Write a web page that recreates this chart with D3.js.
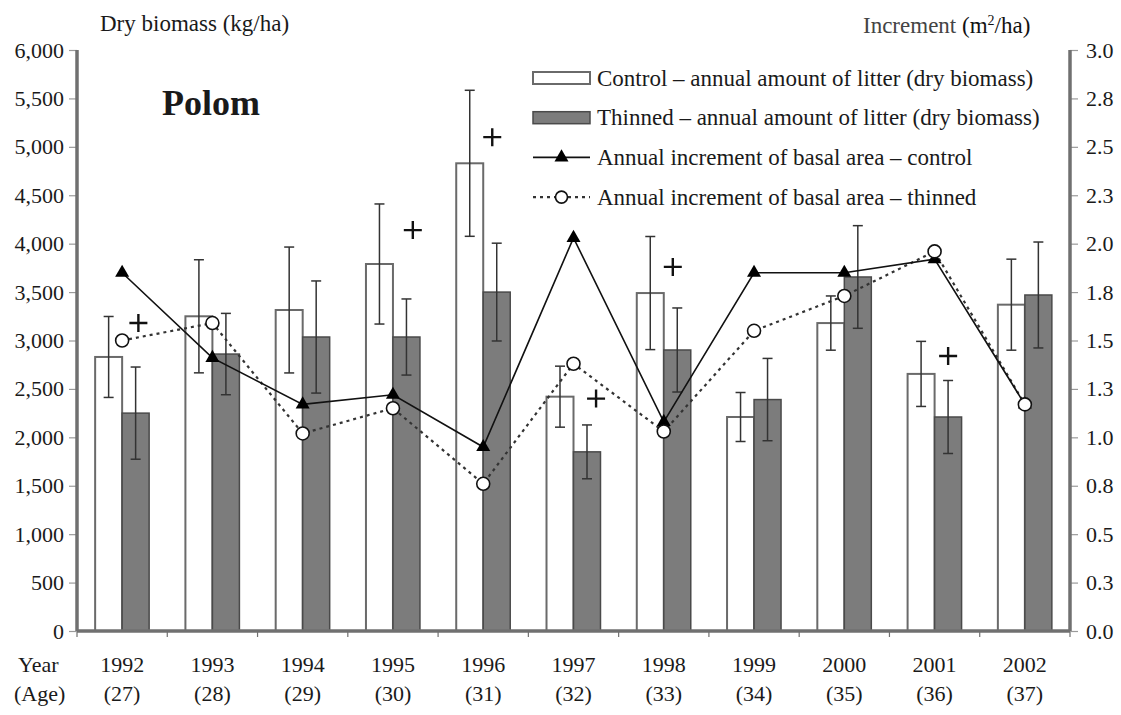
<!DOCTYPE html>
<html>
<head>
<meta charset="utf-8">
<script src="https://cdn.jsdelivr.net/npm/d3@7"></script>
<style>
  body { margin: 0; background: #fff; }
  text { font-family: "Liberation Serif", "Times New Roman", serif; fill: #1a1a1a; }
</style>
</head>
<body>
<div id="chart"></div>
<script>
// Data
const years = [1992, 1993, 1994, 1995, 1996, 1997, 1998, 1999, 2000, 2001, 2002];
const ages = [27, 28, 29, 30, 31, 32, 33, 34, 35, 36, 37];

// litter, kg/ha (mean and error)
const controlLitter = [2830, 3250, 3315, 3790, 4830, 2420, 3490, 2210, 3180, 2655, 3370];
const controlErr    = [418, 584, 650, 620, 754, 315, 584, 253, 280, 336, 470];
const thinnedLitter = [2250, 2860, 3036, 3036, 3500, 1850, 2902, 2390, 3656, 2210, 3470];
const thinnedErr    = [476, 420, 579, 393, 505, 278, 434, 425, 530, 377, 547];

// basal area increment, m2/ha
const controlIncrement = [1.85, 1.41, 1.17, 1.22, 0.95, 2.03, 1.08, 1.85, 1.85, 1.92, 1.17];
const thinnedIncrement = [1.50, 1.59, 1.02, 1.15, 0.76, 1.38, 1.03, 1.55, 1.73, 1.96, 1.17];

// significance marks (+), year position and level in kg/ha
const plusAt     = [1992.18, 1995.22, 1996.1, 1997.25, 1998.1, 2001.15];
const plusLitter = [3180, 4140, 5100, 2400, 3760, 2840];

// ticks
const litterTicks = d3.range(0, 6001, 500);
const incrementTicks = d3.range(0, 3.001, 0.25);

const legendItems = [
  "Control \u2013 annual amount of litter (dry biomass)",
  "Thinned \u2013 annual amount of litter (dry biomass)",
  "Annual increment of basal area \u2013 control",
  "Annual increment of basal area \u2013 thinned"
];

const W = 1121, H = 715;
const margin = {top: 50, right: 51, bottom: 84, left: 77};
const axisColor = "#707070";
const serif = "'Liberation Serif', 'Times New Roman', serif";

const svg = d3.select("#chart").append("svg")
    .attr("width", W)
    .attr("height", H)
    .attr("font-family", serif);

// Scales
const x = d3.scaleBand()
    .domain(years)
    .range([margin.left, W - margin.right])
    .padding(0);

const xSub = d3.scaleBand()
    .domain(["control", "thinned"])
    .range([0, x.bandwidth()])
    .paddingInner(0)
    .paddingOuter(0.672);

const xYear = d3.scaleLinear()
    .domain([years[0], years[years.length - 1]])
    .range([x(years[0]) + x.bandwidth() / 2, x(years[years.length - 1]) + x.bandwidth() / 2]);

const yL = d3.scaleLinear().domain([0, 6000]).range([H - margin.bottom, margin.top]);
const yR = d3.scaleLinear().domain([0, 3]).range([H - margin.bottom, margin.top]);

const rows = years.map((yr, i) => ({
  year: yr, age: ages[i],
  c: controlLitter[i], ce: controlErr[i],
  t: thinnedLitter[i], te: thinnedErr[i],
  ci: controlIncrement[i], ti: thinnedIncrement[i]
}));

// Bars
const g = svg.append("g");
g.selectAll(".bar-c")
  .data(rows)
  .join("rect")
    .attr("x", d => x(d.year) + xSub("control"))
    .attr("y", d => yL(d.c))
    .attr("width", xSub.bandwidth())
    .attr("height", d => yL(0) - yL(d.c))
    .attr("fill", "#fff")
    .attr("stroke", "#6a6a6a")
    .attr("stroke-width", 2);

g.selectAll(".bar-t")
  .data(rows)
  .join("rect")
    .attr("x", d => x(d.year) + xSub("thinned"))
    .attr("y", d => yL(d.t))
    .attr("width", xSub.bandwidth())
    .attr("height", d => yL(0) - yL(d.t))
    .attr("fill", "#7c7c7c")
    .attr("stroke", "#4a4a4a")
    .attr("stroke-width", 1.5);

// Error bars
function errorBars(key, val, err) {
  const cx = d => x(d.year) + xSub(key) + xSub.bandwidth() / 2;
  const eg = g.append("g").attr("stroke", "#333").attr("stroke-width", 1.5);
  eg.selectAll("line.v").data(rows).join("line")
    .attr("x1", cx).attr("x2", cx)
    .attr("y1", d => yL(d[val] - d[err])).attr("y2", d => yL(d[val] + d[err]));
  eg.selectAll("line.top").data(rows).join("line")
    .attr("x1", d => cx(d) - 5).attr("x2", d => cx(d) + 5)
    .attr("y1", d => yL(d[val] + d[err])).attr("y2", d => yL(d[val] + d[err]));
  eg.selectAll("line.bot").data(rows).join("line")
    .attr("x1", d => cx(d) - 5).attr("x2", d => cx(d) + 5)
    .attr("y1", d => yL(d[val] - d[err])).attr("y2", d => yL(d[val] - d[err]));
}
errorBars("control", "c", "ce");
errorBars("thinned", "t", "te");

// Axes
const bottomY = yL(0);
svg.append("line")
    .attr("x1", margin.left).attr("x2", W - margin.right)
    .attr("y1", bottomY).attr("y2", bottomY)
    .attr("stroke", axisColor).attr("stroke-width", 3.5);

// bottom ticks at band boundaries
const bounds = years.map(y => x(y)).concat([x(years[years.length - 1]) + x.bandwidth()]);
svg.append("g").selectAll("line").data(bounds).join("line")
    .attr("x1", d => d).attr("x2", d => d)
    .attr("y1", bottomY).attr("y2", bottomY + 6)
    .attr("stroke", axisColor).attr("stroke-width", 1.2);

const leftAxis = svg.append("g")
    .attr("transform", `translate(${margin.left},0)`)
    .call(d3.axisLeft(yL).tickValues(litterTicks).tickFormat(d3.format(",")).tickSize(8).tickPadding(5));
leftAxis.attr("font-family", serif).attr("font-size", 22);
leftAxis.select(".domain").remove();
leftAxis.selectAll(".tick line").attr("stroke", "#9a9a9a").attr("stroke-width", 1.2);
leftAxis.selectAll(".tick text").attr("fill", "#222");
svg.append("line")
    .attr("x1", margin.left).attr("x2", margin.left)
    .attr("y1", yL(6000)).attr("y2", bottomY)
    .attr("stroke", axisColor).attr("stroke-width", 3.5);

const rightX = W - margin.right;
const rightAxis = svg.append("g")
    .attr("transform", `translate(${rightX},0)`)
    .call(d3.axisRight(yR).tickValues(incrementTicks).tickFormat(d3.format(".1f")).tickSize(8).tickPadding(8));
rightAxis.attr("font-family", serif).attr("font-size", 22);
rightAxis.select(".domain").remove();
rightAxis.selectAll(".tick line").attr("stroke", "#9a9a9a").attr("stroke-width", 1.2);
rightAxis.selectAll(".tick text").attr("fill", "#222");
svg.append("line")
    .attr("x1", rightX).attr("x2", rightX)
    .attr("y1", yR(3)).attr("y2", bottomY)
    .attr("stroke", axisColor).attr("stroke-width", 3.5);

// Lines
const cxMid = d => x(d.year) + x.bandwidth() / 2;
const lineC = d3.line().x(cxMid).y(d => yR(d.ci));
const lineT = d3.line().x(cxMid).y(d => yR(d.ti));

svg.append("path").datum(rows)
    .attr("d", lineT)
    .attr("fill", "none").attr("stroke", "#333").attr("stroke-width", 2.2)
    .attr("stroke-dasharray", "3,4");
svg.append("path").datum(rows)
    .attr("d", lineC)
    .attr("fill", "none").attr("stroke", "#111").attr("stroke-width", 1.6);

const tri = d3.symbol().type(d3.symbolTriangle).size(85);
svg.append("g").selectAll("path").data(rows).join("path")
    .attr("d", tri)
    .attr("transform", d => `translate(${cxMid(d)},${yR(d.ci)})`)
    .attr("fill", "#000");

svg.append("g").selectAll("circle").data(rows).join("circle")
    .attr("cx", cxMid).attr("cy", d => yR(d.ti)).attr("r", 6.5)
    .attr("fill", "#fff").attr("stroke", "#111").attr("stroke-width", 1.6);

// + marks
svg.append("g").selectAll("path").data(plusAt.map((p, i) => ({p, v: plusLitter[i]}))).join("path")
    .attr("d", d => {
      const px = xYear(d.p), py = yL(d.v);
      return `M${px - 9},${py}H${px + 9}M${px},${py - 9}V${py + 9}`;
    })
    .attr("stroke", "#111").attr("stroke-width", 2.4).attr("fill", "none");

// Axis titles
svg.append("text").attr("x", 100).attr("y", 31)
    .style("font-size", "23px").attr("fill", "#333")
    .text("Dry biomass (kg/ha)");

const incT = svg.append("text").attr("x", 863).attr("y", 33).style("font-size", "23px");
incT.append("tspan").attr("fill", "#444").text("Increment ");
incT.append("tspan").attr("fill", "#111").text("(m");
incT.append("tspan").attr("fill", "#111").attr("dy", -8).style("font-size", "14px").text("2");
incT.append("tspan").attr("fill", "#111").attr("dy", 8).text("/ha)");

svg.append("text").attr("x", 162).attr("y", 115)
    .style("font-size", "36px").style("font-weight", "bold").attr("fill", "#111")
    .text("Polom");

// Year and age labels
svg.append("text").attr("x", 18).attr("y", 672).style("font-size", "22px").text("Year");
svg.append("text").attr("x", 14).attr("y", 701).style("font-size", "22px").text("(Age)");
svg.append("g").selectAll("text").data(rows).join("text")
    .attr("x", cxMid).attr("y", 672)
    .attr("text-anchor", "middle").style("font-size", "22px")
    .text(d => d.year);
svg.append("g").selectAll("text").data(rows).join("text")
    .attr("x", cxMid).attr("y", 701)
    .attr("text-anchor", "middle").style("font-size", "22px")
    .text(d => `(${d.age})`);

// Legend
const lgX = 533, lgW = 57, lgY0 = 78, lgStep = 39.7;
const lg = svg.append("g");
legendItems.forEach((label, i) => {
  const cy = lgY0 + i * lgStep;
  if (i === 0) {
    lg.append("rect").attr("x", lgX).attr("y", cy - 6).attr("width", lgW).attr("height", 12)
      .attr("fill", "#fff").attr("stroke", "#6a6a6a").attr("stroke-width", 2);
  } else if (i === 1) {
    lg.append("rect").attr("x", lgX).attr("y", cy - 6).attr("width", lgW).attr("height", 12)
      .attr("fill", "#7c7c7c").attr("stroke", "#4a4a4a").attr("stroke-width", 1.5);
  } else if (i === 2) {
    lg.append("line").attr("x1", lgX).attr("x2", lgX + lgW).attr("y1", cy).attr("y2", cy)
      .attr("stroke", "#111").attr("stroke-width", 1.6);
    lg.append("path").attr("d", tri).attr("transform", `translate(${lgX + lgW / 2},${cy})`).attr("fill", "#000");
  } else {
    lg.append("line").attr("x1", lgX).attr("x2", lgX + lgW).attr("y1", cy).attr("y2", cy)
      .attr("stroke", "#333").attr("stroke-width", 2.2).attr("stroke-dasharray", "3,4");
    lg.append("circle").attr("cx", lgX + lgW / 2).attr("cy", cy).attr("r", 6)
      .attr("fill", "#fff").attr("stroke", "#111").attr("stroke-width", 1.6);
  }
  lg.append("text").attr("x", lgX + lgW + 7).attr("y", cy).attr("dy", "0.33em")
    .style("font-size", "23px").attr("fill", "#222")
    .text(label);
});
</script>
</body>
</html>
